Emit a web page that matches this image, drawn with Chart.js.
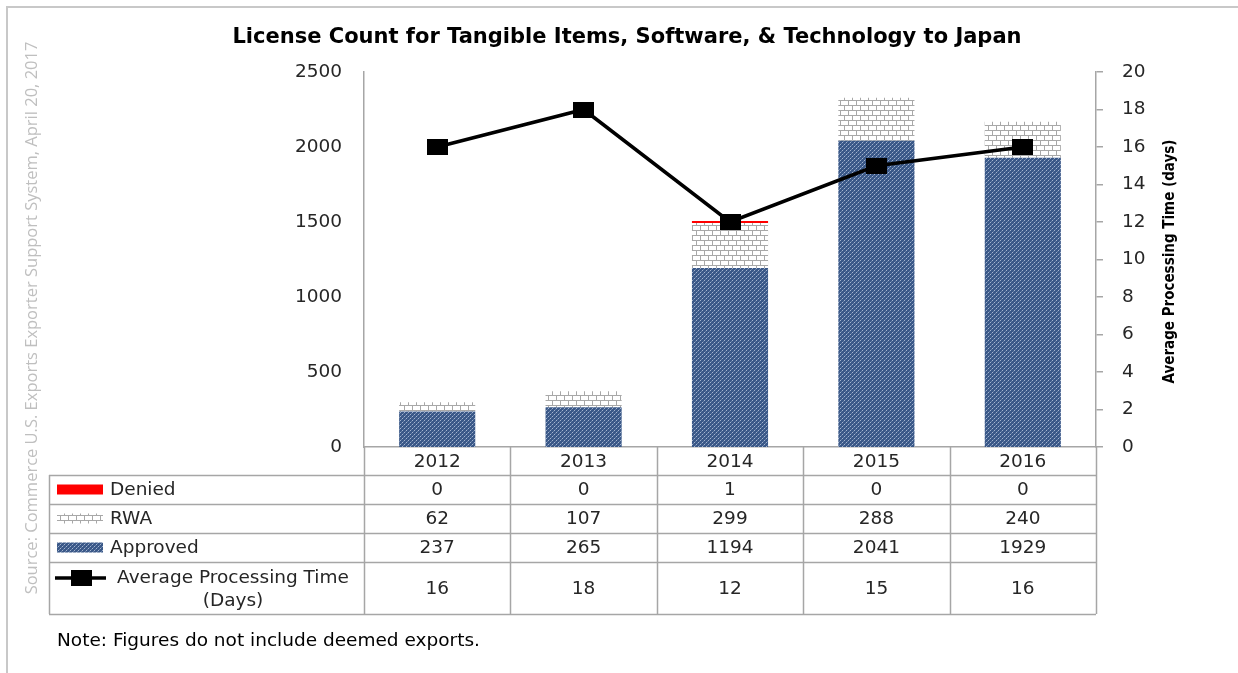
<!DOCTYPE html>
<html>
<head>
<meta charset="utf-8">
<script src="https://cdn.jsdelivr.net/npm/chart.js@4.4.0/dist/chart.umd.min.js"></script>
<style>
html, body { margin: 0; padding: 0; background: #fff; }
canvas { display: block; }
</style>
</head>
<body>
<canvas id="myChart" width="1238" height="673"></canvas>
<script>
// datos
const anios = ['2012', '2013', '2014', '2015', '2016'];
const denegadas = [0, 0, 1, 0, 0];
const rwa = [62, 107, 299, 288, 240];
const aprobadas = [237, 265, 1194, 2041, 1929];
const tiempoPromedio = [16, 18, 12, 15, 16];
const ticksLicencias = [0, 500, 1000, 1500, 2000, 2500];
const ticksDias = [0, 2, 4, 6, 8, 10, 12, 14, 16, 18, 20];

const titulo = 'License Count for Tangible Items, Software, & Technology to Japan';
const tituloDerecho = 'Average Processing Time (days)';
const fuente = 'Source: Commerce U.S. Exports Exporter Support System, April 20, 2017';
const nota = 'Note: Figures do not include deemed exports.';

const gris = '#a6a6a6';
const texto = '#262626';
const letra = '"DejaVu Sans", "Open Sans", sans-serif';
const tam = 18.5;

// trama punteada azul (Approved)
function tramaAzul() {
    const c = document.createElement('canvas');
    c.width = 4; c.height = 4;
    const g = c.getContext('2d');
    g.fillStyle = '#3a5888';
    g.fillRect(0, 0, 4, 4);
    g.fillStyle = '#a3b4d0';
    g.fillRect(0, 0, 1, 1);
    g.fillRect(2, 2, 1, 1);
    g.fillStyle = '#6780a6';
    g.fillRect(1, 3, 1, 1);
    g.fillRect(3, 1, 1, 1);
    return g.createPattern(c, 'repeat');
}

// trama de ladrillos (RWA)
function tramaLadrillo() {
    const c = document.createElement('canvas');
    c.width = 8; c.height = 10;
    const g = c.getContext('2d');
    g.fillStyle = '#ffffff';
    g.fillRect(0, 0, 8, 10);
    g.fillStyle = '#a8a8a8';
    g.fillRect(0, 0, 8, 1);
    g.fillRect(0, 5, 8, 1);
    g.fillRect(0, 0, 1, 5);
    g.fillRect(4, 5, 1, 5);
    return g.createPattern(c, 'repeat');
}

function marcador() {
    const c = document.createElement('canvas');
    c.width = 21; c.height = 16;
    const g = c.getContext('2d');
    g.fillStyle = '#000';
    g.fillRect(0, 0, 21, 16);
    return c;
}

const patronAzul = tramaAzul();
const patronLadrillo = tramaLadrillo();
const cuadrado = marcador();

const dibujarExtras = {
    id: 'dibujarExtras',
    afterDraw(chart) {
        const ctx = chart.ctx;
        const area = chart.chartArea;
        const ejeX = chart.scales.x;
        const ancho = (area.right - area.left) / anios.length;
        const izq = 49;
        const filas = [area.bottom, area.bottom + 28, area.bottom + 57, area.bottom + 86, area.bottom + 115, area.bottom + 167];
        ctx.save();

        // marco exterior
        ctx.strokeStyle = '#c8c8c8';
        ctx.lineWidth = 2;
        ctx.beginPath();
        ctx.moveTo(7, 673);
        ctx.lineTo(7, 7);
        ctx.lineTo(1238, 7);
        ctx.stroke();

        // titulo
        ctx.fillStyle = '#000';
        ctx.font = 'bold 21px ' + letra;
        ctx.textAlign = 'center';
        ctx.textBaseline = 'middle';
        ctx.fillText(titulo, 627, 38);

        // titulo del eje derecho
        ctx.save();
        ctx.translate(1170, (area.top + area.bottom) / 2 + 2);
        ctx.rotate(-Math.PI / 2);
        ctx.font = 'bold 15px "DejaVu Sans Condensed", "Liberation Sans Narrow", ' + letra;
        ctx.fillText(tituloDerecho, 0, 0);
        ctx.restore();

        // fuente rotada
        ctx.save();
        ctx.translate(32, 318);
        ctx.rotate(-Math.PI / 2);
        ctx.fillStyle = '#bfbfbf';
        ctx.font = '16.5px "Open Sans", sans-serif';
        ctx.fillText(fuente, 0, 0);
        ctx.restore();

        // lineas de la tabla
        ctx.strokeStyle = gris;
        ctx.lineWidth = 1.5;
        ctx.beginPath();
        for (let i = 0; i <= anios.length; i++) {
            const x = Math.round(area.left + i * ancho) + 0.5;
            ctx.moveTo(x, area.bottom);
            ctx.lineTo(x, filas[5]);
        }
        for (let j = 1; j < filas.length; j++) {
            ctx.moveTo(izq, filas[j] + 0.5);
            ctx.lineTo(area.right, filas[j] + 0.5);
        }
        ctx.moveTo(izq + 0.5, filas[1]);
        ctx.lineTo(izq + 0.5, filas[5]);
        ctx.stroke();

        // valores
        const series = [denegadas, rwa, aprobadas, tiempoPromedio];
        ctx.fillStyle = texto;
        ctx.font = tam + 'px ' + letra;
        ctx.textAlign = 'center';
        series.forEach((serie, j) => {
            const yc = (filas[j + 1] + filas[j + 2]) / 2 + 1;
            serie.forEach((v, i) => {
                ctx.fillText(String(v), ejeX.getPixelForValue(i), yc);
            });
        });

        // leyenda dentro de la tabla
        const nombres = ['Denied', 'RWA', 'Approved'];
        const rellenos = ['#ff0000', patronLadrillo, patronAzul];
        ctx.textAlign = 'left';
        nombres.forEach((n, j) => {
            const yc = (filas[j + 1] + filas[j + 2]) / 2;
            ctx.fillStyle = rellenos[j];
            ctx.fillRect(57, yc - 5, 46, 10);
            ctx.fillStyle = texto;
            ctx.fillText(n, 110, yc + 1);
        });
        const yl = (filas[4] + filas[5]) / 2;
        ctx.strokeStyle = '#000';
        ctx.lineWidth = 3.5;
        ctx.beginPath();
        ctx.moveTo(55, yl - 10);
        ctx.lineTo(106, yl - 10);
        ctx.stroke();
        ctx.drawImage(cuadrado, 71, yl - 18);
        ctx.fillStyle = texto;
        ctx.textAlign = 'center';
        ctx.fillText('Average Processing Time', 233, yl - 10);
        ctx.fillText('(Days)', 233, yl + 13);

        // nota
        ctx.textAlign = 'left';
        ctx.font = '18.5px ' + letra;
        ctx.fillStyle = '#000';
        ctx.fillText(nota, 57, 641);
        ctx.restore();
    }
};

const sinComas = v => String(v);

const contenedor = document.getElementById('myChart').getContext('2d');
window.myCharts = new Chart(contenedor, {
    data: {
        labels: anios,
        datasets: [
            {
                type: 'line',
                label: 'Average Processing Time (Days)',
                data: tiempoPromedio,
                yAxisID: 'y2',
                borderColor: '#000',
                borderWidth: 3.5,
                pointStyle: cuadrado,
                pointRadius: 10,
                order: 0
            },
            {
                type: 'bar',
                label: 'Approved',
                data: aprobadas,
                backgroundColor: patronAzul,
                categoryPercentage: 1,
                barPercentage: 0.52,
                order: 1
            },
            {
                type: 'bar',
                label: 'RWA',
                data: rwa,
                backgroundColor: patronLadrillo,
                categoryPercentage: 1,
                barPercentage: 0.52,
                order: 1
            },
            {
                type: 'bar',
                label: 'Denied',
                data: denegadas.map(v => v || null),
                backgroundColor: '#ff0000',
                minBarLength: 2,
                categoryPercentage: 1,
                barPercentage: 0.52,
                order: 1
            }
        ]
    },
    options: {
        responsive: false,
        animation: false,
        layout: { padding: { top: 72, left: 0, right: 0, bottom: 198 } },
        plugins: {
            legend: { display: false },
            tooltip: { enabled: false },
            title: { display: false }
        },
        scales: {
            x: {
                stacked: true,
                grid: { display: false, drawTicks: false },
                border: { display: true, color: gris, width: 1.5 },
                ticks: { color: texto, font: { family: letra, size: tam }, padding: 4 },
                afterFit: s => { s.height = 28; }
            },
            y: {
                stacked: true,
                min: ticksLicencias[0],
                max: ticksLicencias[ticksLicencias.length - 1],
                afterBuildTicks: s => { s.ticks = ticksLicencias.map(v => ({ value: v })); },
                grid: { display: false, drawTicks: false },
                border: { display: true, color: gris, width: 1.5 },
                ticks: { color: texto, font: { family: letra, size: tam }, padding: 22, callback: sinComas },
                afterFit: s => { s.width = 364; }
            },
            y2: {
                position: 'right',
                min: ticksDias[0],
                max: ticksDias[ticksDias.length - 1],
                afterBuildTicks: s => { s.ticks = ticksDias.map(v => ({ value: v })); },
                grid: { display: true, drawOnChartArea: false, drawTicks: true, tickLength: 7, color: gris, lineWidth: 1.5 },
                border: { display: true, color: gris, width: 1.5 },
                ticks: { color: texto, font: { family: letra, size: tam }, padding: 19, callback: sinComas },
                afterFit: s => { s.width = 142; }
            }
        }
    },
    plugins: [dibujarExtras]
});
</script>
</body>
</html>
